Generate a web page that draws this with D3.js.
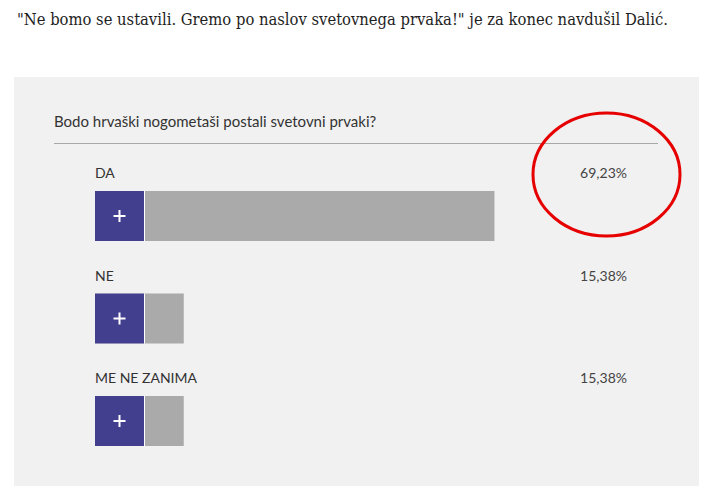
<!DOCTYPE html>
<html>
<head>
<meta charset="utf-8">
<script src="https://cdn.jsdelivr.net/npm/d3@7/dist/d3.min.js"></script>
<style>
  html, body { margin: 0; padding: 0; background: #ffffff; }
  svg { display: block; }
</style>
</head>
<body>
<script>
const headline = "\"Ne bomo se ustavili. Gremo po naslov svetovnega prvaka!\" je za konec navdušil Dalić.";
const question = "Bodo hrvaški nogometaši postali svetovni prvaki?";
const categories = ["DA", "NE", "ME NE ZANIMA"];
const values = [69.23, 15.38, 15.38];
const valueLabels = ["69,23%", "15,38%", "15,38%"];

const W = 711, H = 496;
const svg = d3.select("body").append("svg").attr("width", W).attr("height", H);

// headline text
svg.append("text")
  .attr("x", 17).attr("y", 25)
  .attr("font-family", "'DejaVu Serif Condensed', 'DejaVu Serif', 'Liberation Serif', serif")
  .attr("font-stretch", "condensed")
  .attr("font-size", 16)
  .attr("fill", "#1e1e1e")
  .attr("textLength", 651)
  .attr("lengthAdjust", "spacingAndGlyphs")
  .text(headline);

// panel
svg.append("rect").attr("x", 14).attr("y", 77).attr("width", 685).attr("height", 409).attr("fill", "#f1f1f1");

// question
svg.append("text")
  .attr("x", 54).attr("y", 127)
  .attr("font-family", "Lato, 'Open Sans', sans-serif")
  .attr("font-size", 15)
  .attr("fill", "#333")
  .text(question);

svg.append("line").attr("x1", 54).attr("x2", 658).attr("y1", 143.5).attr("y2", 143.5)
  .attr("stroke", "#a8a8a8").attr("stroke-width", 1);

const x0 = 95;
const x = d3.scaleLinear().domain([0, 100]).range([0, 577]);
const y = d3.scaleBand().domain(categories).range([191, 191 + 3 * 102.5]).paddingInner(0);
const barH = 50, boxW = 49;

const rows = svg.selectAll("g.row").data(categories).join("g").attr("class", "row")
  .attr("transform", d => `translate(0,${y(d)})`);

rows.append("rect")
  .attr("x", x0).attr("y", 0)
  .attr("width", (d, i) => x(values[i]))
  .attr("height", barH)
  .attr("fill", "#aaaaaa");

rows.append("rect")
  .attr("x", x0).attr("y", 0).attr("width", boxW + 1).attr("height", barH)
  .attr("fill", "#ffffff");
rows.append("rect")
  .attr("x", x0).attr("y", 0).attr("width", boxW).attr("height", barH)
  .attr("fill", "#433f8f");

rows.append("path")
  .attr("d", `M${x0 + boxW / 2 - 6},${barH / 2}H${x0 + boxW / 2 + 6}M${x0 + boxW / 2},${barH / 2 - 6}V${barH / 2 + 6}`)
  .attr("stroke", "#ffffff").attr("stroke-width", 2);

rows.append("text")
  .attr("x", x0).attr("y", -13)
  .attr("font-family", "Lato, 'Liberation Sans', Arial, sans-serif")
  .attr("font-size", 14)
  .attr("fill", "#333")
  .text(d => d);

rows.append("text")
  .attr("x", 627).attr("y", -13)
  .attr("text-anchor", "end")
  .attr("font-family", "Lato, 'Liberation Sans', Arial, sans-serif")
  .attr("font-size", 14)
  .attr("fill", "#444")
  .text((d, i) => valueLabels[i]);

// red annotation ellipse
svg.append("ellipse")
  .attr("cx", 606.5).attr("cy", 174.5).attr("rx", 73.5).attr("ry", 61.5)
  .attr("fill", "none").attr("stroke", "#e60000").attr("stroke-width", 3);
</script>
</body>
</html>
